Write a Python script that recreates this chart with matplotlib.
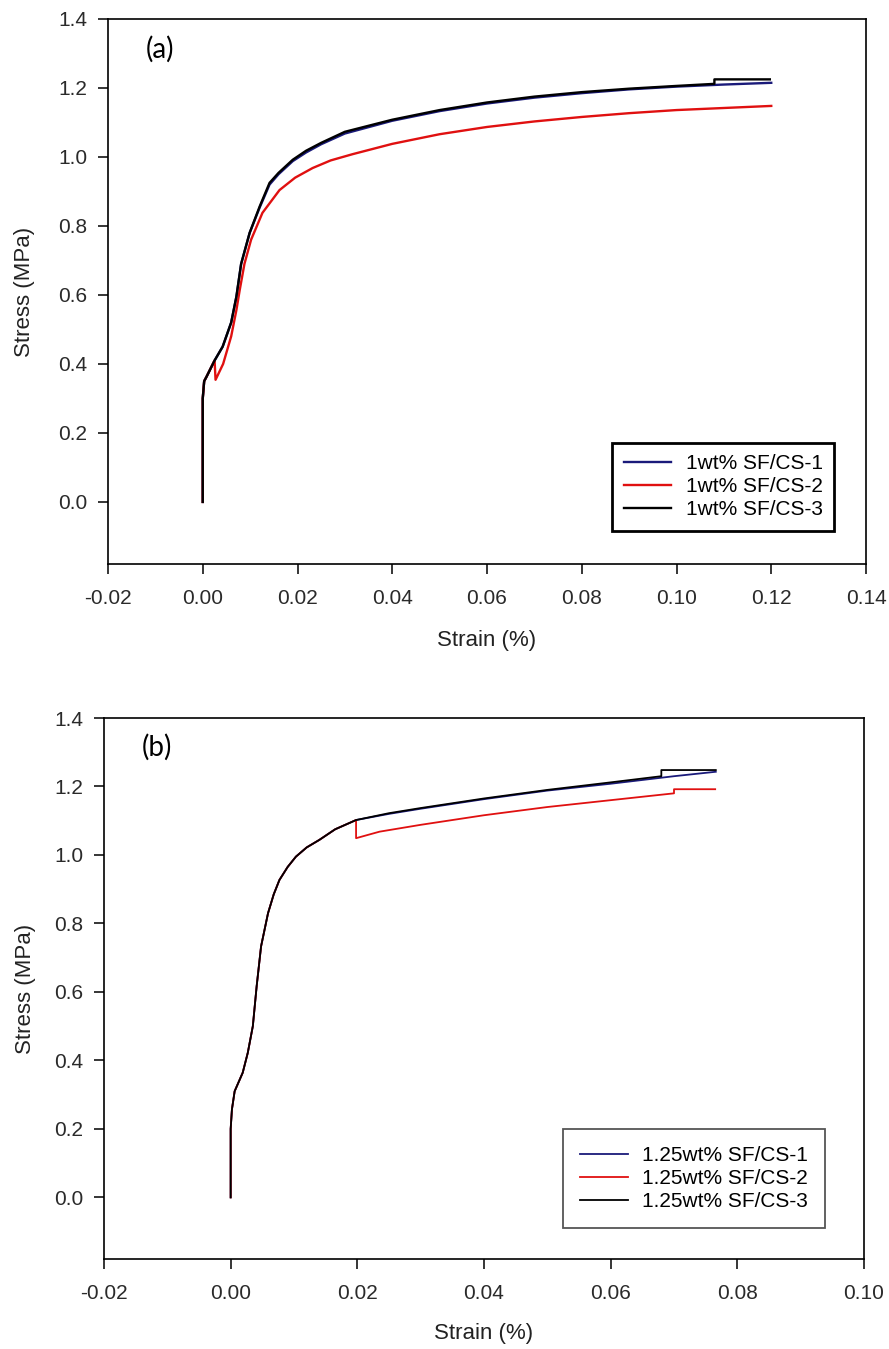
import matplotlib
matplotlib.use("Agg")
import matplotlib.pyplot as plt

plt.rcParams["font.family"] = ["Liberation Sans", "DejaVu Sans"]

# ---- panel (a): 1wt% SF/CS ----
a_labels = ["1wt% SF/CS-1", "1wt% SF/CS-2", "1wt% SF/CS-3"]
a1_x = [0.0, 0.0, 0.0003, 0.0008, 0.0025, 0.0042, 0.006, 0.0071, 0.0081, 0.0099,
        0.012, 0.0141, 0.016, 0.019, 0.0218, 0.025, 0.03, 0.04, 0.05, 0.06, 0.07,
        0.08, 0.09, 0.10, 0.11, 0.12]
a1_y = [0.0, 0.30, 0.35, 0.363, 0.41, 0.45, 0.52, 0.595, 0.69, 0.78,
        0.853, 0.92, 0.950, 0.988, 1.013, 1.037, 1.068, 1.105, 1.133, 1.155, 1.172,
        1.185, 1.196, 1.204, 1.210, 1.215]
a2_x = [0.0, 0.0, 0.0003, 0.0008, 0.0025, 0.0027, 0.0043, 0.006, 0.0071, 0.0078,
        0.0088, 0.0102, 0.0126, 0.0162, 0.0195, 0.0232, 0.027, 0.0316, 0.04, 0.05,
        0.06, 0.07, 0.08, 0.09, 0.10, 0.11, 0.12]
a2_y = [0.0, 0.30, 0.35, 0.363, 0.41, 0.354, 0.40, 0.48, 0.556, 0.614,
        0.69, 0.76, 0.838, 0.904, 0.940, 0.968, 0.990, 1.008, 1.038, 1.066,
        1.087, 1.103, 1.116, 1.127, 1.136, 1.142, 1.148]
a3_x = [0.0, 0.0, 0.0003, 0.0008, 0.0025, 0.0042, 0.006, 0.0071, 0.0081, 0.0099,
        0.012, 0.0141, 0.016, 0.019, 0.0218, 0.025, 0.03, 0.04, 0.05, 0.06, 0.07,
        0.08, 0.09, 0.10, 0.108, 0.108, 0.1197]
a3_y = [0.0, 0.30, 0.35, 0.363, 0.41, 0.45, 0.52, 0.595, 0.69, 0.78,
        0.856, 0.925, 0.954, 0.992, 1.018, 1.041, 1.073, 1.108, 1.136, 1.158, 1.175,
        1.188, 1.198, 1.206, 1.212, 1.225, 1.225]

# ---- panel (b): 1.25wt% SF/CS ----
b_labels = ["1.25wt% SF/CS-1", "1.25wt% SF/CS-2", "1.25wt% SF/CS-3"]
b_x = [0.0, 0.0, 0.0002, 0.00063, 0.0019, 0.0027, 0.0035, 0.0041, 0.0048, 0.0059,
       0.0068, 0.0077, 0.009, 0.0103, 0.012, 0.014, 0.0165, 0.0198]
b_y = [0.0, 0.20, 0.257, 0.31, 0.364, 0.422, 0.50, 0.616, 0.733, 0.83,
       0.885, 0.927, 0.965, 0.995, 1.022, 1.044, 1.075, 1.102]
b1_x = b_x + [0.025, 0.03, 0.04, 0.05, 0.06, 0.07, 0.0766]
b1_y = b_y + [1.120, 1.135, 1.163, 1.188, 1.208, 1.230, 1.243]
b2_x = b_x + [0.0198, 0.0235, 0.03, 0.04, 0.05, 0.06, 0.07, 0.07, 0.0765]
b2_y = b_y + [1.049, 1.068, 1.088, 1.116, 1.140, 1.160, 1.180, 1.192, 1.192]
b3_x = b_x + [0.025, 0.03, 0.04, 0.05, 0.06, 0.068, 0.068, 0.0766]
b3_y = b_y + [1.122, 1.137, 1.165, 1.190, 1.212, 1.230, 1.248, 1.248]

colors = ["#1a1a7a", "#e01010", "#000000"]

fig = plt.figure(figsize=(8.89, 13.49), dpi=100)
ax_a = fig.add_axes([108 / 889, 1 - 564 / 1349, 758 / 889, 545 / 1349])
ax_b = fig.add_axes([104 / 889, 1 - 1259 / 1349, 760 / 889, 541 / 1349])


def style(ax, xmax, panel, ylab_x, xlab_y):
    ax.set_ylim(-0.18, 1.4)
    ax.set_yticks([0.0, 0.2, 0.4, 0.6, 0.8, 1.0, 1.2, 1.4])
    ax.set_yticklabels([f"{v:.1f}" for v in ax.get_yticks()])
    ax.set_xlim(-0.02, xmax)
    xt = [round(-0.02 + 0.02 * i, 2) for i in range(int(round((xmax + 0.02) / 0.02)) + 1)]
    ax.set_xticks(xt)
    ax.set_xticklabels([f"{v:.2f}" if v != 0 else "0.00" for v in xt])
    ax.tick_params(direction="out", length=7, width=1.1, labelsize=15,
                   labelcolor="#2a2a2a", top=False, right=False)
    ax.tick_params(axis="x", pad=11)
    ax.tick_params(axis="y", pad=8)
    for s in ax.spines.values():
        s.set_linewidth(1.2)
    ax.set_xlabel("Strain (%)", fontsize=16, color="#222222")
    ax.set_ylabel("Stress (MPa)", fontsize=16, color="#222222")
    ax.yaxis.set_label_coords(ylab_x, 0.5)
    ax.xaxis.set_label_coords(0.5, xlab_y)
    ax.text(0.05, 0.945, panel, transform=ax.transAxes, fontsize=20,
            family="Lato", va="center", ha="left")


for x, y, c, lab in zip([a1_x, a2_x, a3_x], [a1_y, a2_y, a3_y], colors, a_labels):
    ax_a.plot(x, y, color=c, lw=1.7, label=lab)
style(ax_a, 0.14, "(a)", -0.096, -0.121)
leg = ax_a.legend(loc="lower left", bbox_to_anchor=(0.665, 0.061), fontsize=15,
                  handlelength=2.3, labelspacing=0.2, borderpad=0.55, fancybox=False,
                  framealpha=1, handletextpad=0.7, borderaxespad=0)
leg.get_frame().set_edgecolor("black")
leg.get_frame().set_linewidth(2.0)

for x, y, c, lab in zip([b1_x, b2_x, b3_x], [b1_y, b2_y, b3_y], colors, b_labels):
    ax_b.plot(x, y, color=c, lw=1.3, label=lab)
style(ax_b, 0.10, "(b)", -0.090, -0.118)
leg = ax_b.legend(loc="lower left", bbox_to_anchor=(0.604, 0.057), fontsize=15,
                  handlelength=2.3, labelspacing=0.2, borderpad=0.8, fancybox=False,
                  framealpha=1, handletextpad=0.7, borderaxespad=0)
leg.get_frame().set_edgecolor("#555555")
leg.get_frame().set_linewidth(1.3)

fig.savefig("out.png", dpi=100)
